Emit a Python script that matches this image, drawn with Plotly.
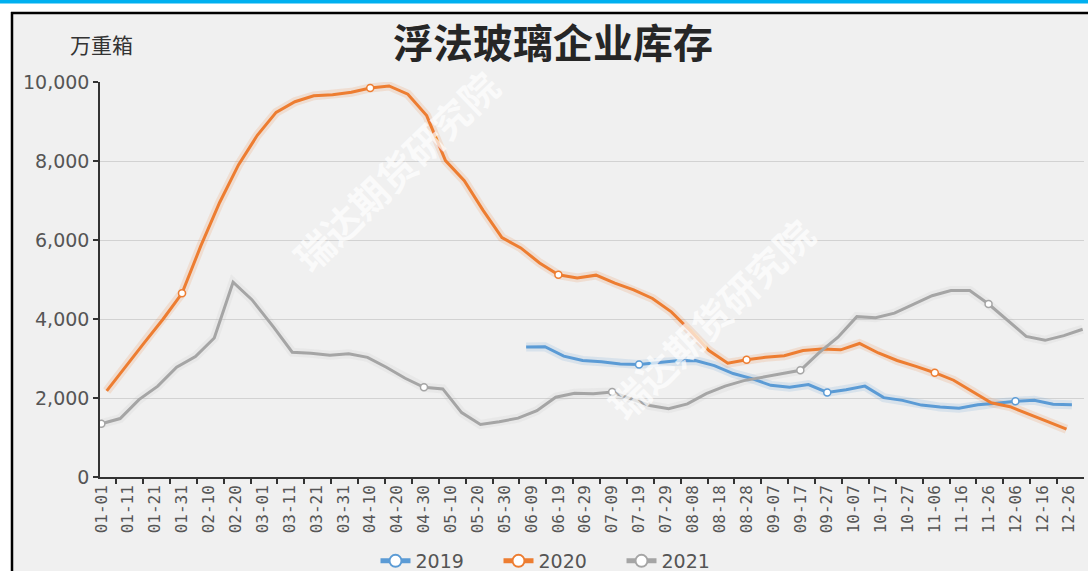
import pandas as pd
import plotly.graph_objects as go

# ---------------- data ----------------
# daily category axis (leap-year calendar, MM-DD)
all_days = list(pd.date_range("2020-01-01", "2020-12-31", freq="D").strftime("%m-%d"))

dates_2019 = ["06-07", "06-14", "06-21", "06-28", "07-05", "07-12", "07-19", "07-26",
              "08-02", "08-09", "08-16", "08-23", "08-30", "09-06", "09-13", "09-20",
              "09-27", "10-04", "10-11", "10-18", "10-25", "11-01", "11-08", "11-15",
              "11-22", "11-29", "12-06", "12-13", "12-20", "12-27"]
values_2019 = [3290, 3300, 3060, 2950, 2920, 2860, 2850, 2900,
               2940, 2950, 2820, 2620, 2490, 2320, 2270, 2340,
               2140, 2210, 2300, 2010, 1940, 1820, 1770, 1740,
               1830, 1870, 1920, 1940, 1840, 1830]

dates_2020 = ["01-03", "01-10", "01-17", "01-24", "01-31", "02-07", "02-14", "02-21",
              "02-28", "03-06", "03-13", "03-20", "03-27", "04-03", "04-10", "04-17",
              "04-24", "05-01", "05-08", "05-15", "05-22", "05-29", "06-05", "06-12",
              "06-19", "06-26", "07-03", "07-10", "07-17", "07-24", "07-31", "08-07",
              "08-14", "08-21", "08-28", "09-04", "09-11", "09-18", "09-25", "10-02",
              "10-09", "10-16", "10-23", "10-30", "11-06", "11-13", "11-20", "11-27",
              "12-04", "12-11", "12-18", "12-25"]
values_2020 = [2180, 2800, 3400, 4000, 4650, 5850, 6950, 7900,
               8650, 9230, 9500, 9650, 9680, 9740, 9850, 9900,
               9690, 9150, 8010, 7500, 6750, 6060, 5800, 5420,
               5120, 5040, 5110, 4910, 4740, 4520, 4180, 3710,
               3200, 2880, 2970, 3030, 3070, 3200, 3240, 3220,
               3380, 3140, 2950, 2800, 2640, 2450, 2170, 1880,
               1780, 1580, 1400, 1210]

dates_2021 = ["01-01", "01-08", "01-15", "01-22", "01-29", "02-05", "02-12", "02-19",
              "02-26", "03-05", "03-12", "03-19", "03-26", "04-02", "04-09", "04-16",
              "04-23", "04-30", "05-07", "05-14", "05-21", "05-28", "06-04", "06-11",
              "06-18", "06-25", "07-02", "07-09", "07-16", "07-23", "07-30", "08-06",
              "08-13", "08-20", "08-27", "09-03", "09-10", "09-17", "09-24", "10-01",
              "10-08", "10-15", "10-22", "10-29", "11-05", "11-12", "11-19", "11-26",
              "12-03", "12-10", "12-17", "12-24", "12-31"]
values_2021 = [1350, 1480, 1960, 2300, 2780, 3050, 3520, 4930,
               4490, 3800, 3160, 3130, 3080, 3120, 3030, 2780,
               2500, 2270, 2230, 1630, 1330, 1400, 1490, 1680,
               2020, 2120, 2110, 2150, 1980, 1810, 1730, 1850,
               2110, 2300, 2440, 2530, 2620, 2700, 3150, 3540,
               4060, 4030, 4150, 4380, 4590, 4720, 4720, 4380,
               3960, 3560, 3460, 3580, 3740]

series_names = ["2019", "2020", "2021"]
label_step = 10
y_ticks = [0, 2000, 4000, 6000, 8000, 10000]

# ---------------- style ----------------
colors = {"2019": "#5b9bd5", "2020": "#ed7d31", "2021": "#a5a5a5"}
glows = {"2019": "rgba(91,155,213,0.16)", "2020": "rgba(237,125,49,0.16)", "2021": "rgba(165,165,165,0.10)"}
W, H = 1088, 571
ML, MR, MT, MB = 100, 4, 82, 94
PW, PH = W - ML - MR, H - MT - MB


def px(x):
    return (x - ML) / PW


def py(y):
    return (H - MB - y) / PH


pos = {d: i for i, d in enumerate(all_days)}
fig = go.Figure()

series = [("2019", dates_2019, values_2019),
          ("2020", dates_2020, values_2020),
          ("2021", dates_2021, values_2021)]

# soft glow under each line
for name, dates, vals in series:
    fig.add_trace(go.Scatter(
        x=[pos[d] for d in dates], y=vals, mode="lines", showlegend=False,
        hoverinfo="skip", line=dict(color=glows[name], width=9),
    ))

for name, dates, vals in series:
    xs = [pos[d] for d in dates]
    sel = [k for k, xv in enumerate(xs) if xv % label_step == 0]
    fig.add_trace(go.Scatter(
        x=xs, y=vals, name=name, mode="lines+markers",
        line=dict(color=colors[name], width=3),
        marker=dict(size=7, color="white", symbol="circle",
                    line=dict(color=colors[name], width=1.5)),
        selectedpoints=sel,
        selected=dict(marker=dict(opacity=1)),
        unselected=dict(marker=dict(opacity=0)),
    ))

tickvals = list(range(0, len(all_days), label_step))
ticktext = [all_days[i] for i in tickvals]
minor_vals = [v + 5.5 for v in tickvals if v + 5.5 < len(all_days) - 1]

fig.update_xaxes(
    range=[-0.5, len(all_days) - 0.5], automargin=False,
    tickmode="array", tickvals=tickvals, ticktext=ticktext,
    tickangle=-90, ticks="", showgrid=False,
    showline=True, linecolor="#333", linewidth=1.5,
    tickfont=dict(family="DejaVu Sans Mono", size=16, color="#555"),
    minor=dict(tickmode="array", tickvals=minor_vals, ticks="outside",
               ticklen=5, tickcolor="#333", tickwidth=1.5, showgrid=False),
    zeroline=False,
)
fig.update_yaxes(
    range=[0, 10000], automargin=False, tickmode="array", tickvals=y_ticks,
    tickformat=",d", ticks="outside", ticklen=5, tickcolor="#333", tickwidth=1.5,
    showline=True, linecolor="#333", linewidth=1.5,
    showgrid=True, gridcolor="#d2d2d2", gridwidth=1, zeroline=False,
    tickfont=dict(family="DejaVu Sans", size=19, color="#555"),
)

shapes = [
    dict(type="rect", xref="paper", yref="paper", x0=px(0), x1=px(W), y0=py(12), y1=py(0),
         fillcolor="white", line=dict(width=0), layer="below"),
    dict(type="rect", xref="paper", yref="paper", x0=px(0), x1=px(11), y0=py(H), y1=py(0),
         fillcolor="white", line=dict(width=0), layer="below"),
    dict(type="rect", xref="paper", yref="paper", x0=px(0), x1=px(W), y0=py(3.5), y1=py(0),
         fillcolor="#00b0f0", line=dict(width=0), layer="above"),
    dict(type="line", xref="paper", yref="paper", x0=px(11), x1=px(W), y0=py(13), y1=py(13),
         line=dict(color="black", width=2.5), layer="above"),
    dict(type="line", xref="paper", yref="paper", x0=px(12), x1=px(12), y0=py(12), y1=py(H),
         line=dict(color="black", width=2.5), layer="above"),
]

annotations = [
    dict(text="万重箱", xref="paper", yref="paper", x=px(101), y=py(44),
         xanchor="center", yanchor="middle", showarrow=False,
         font=dict(family="Noto Sans CJK SC", size=21, color="#333")),
    dict(text="瑞达期货研究院", xref="paper", yref="paper", x=px(395), y=py(170),
         xanchor="center", yanchor="middle", showarrow=False, textangle=-44,
         font=dict(family="Noto Sans CJK SC", size=38, color="rgba(255,255,255,0.7)", weight="bold")),
    dict(text="瑞达期货研究院", xref="paper", yref="paper", x=px(710), y=py(318),
         xanchor="center", yanchor="middle", showarrow=False, textangle=-44,
         font=dict(family="Noto Sans CJK SC", size=38, color="rgba(255,255,255,0.7)", weight="bold")),
]

fig.update_layout(
    width=W, height=H,
    margin=dict(l=ML, r=MR, t=MT, b=MB, pad=0, autoexpand=False),
    paper_bgcolor="#f0f0f0", plot_bgcolor="#f0f0f0",
    title=dict(text="浮法玻璃企业库存", x=553 / W, xanchor="center",
               y=1 - 44 / H, yanchor="middle",
               font=dict(family="Noto Sans CJK SC", size=40, color="#262626", weight="bold")),
    showlegend=True,
    legend=dict(orientation="h", xref="container", yref="container",
                x=560 / W, xanchor="center", y=1 - 561 / H, yanchor="middle",
                font=dict(family="DejaVu Sans", size=19, color="#555"),
                itemsizing="constant", bgcolor="rgba(0,0,0,0)",
                entrywidth=78, entrywidthmode="pixels"),
    shapes=shapes, annotations=annotations,
)

fig.write_html("out.html", config={"displayModeBar": False},
               post_script="document.body.style.margin='0';document.body.style.overflow='hidden';")
